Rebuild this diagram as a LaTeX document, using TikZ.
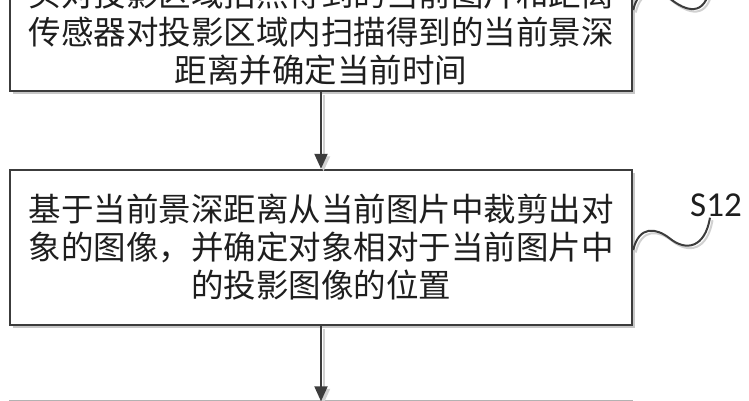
\documentclass[tikz,border=0pt]{standalone}
\usepackage{fontspec}
\setmainfont{Noto Sans CJK SC}
\newfontfamily\labfont{Carlito}
\usetikzlibrary{arrows.meta,shadows}
\definecolor{edge}{HTML}{3C3C3C}
\definecolor{ink}{HTML}{1E1E1E}
\tikzset{
  stepbox/.style={draw=edge, line width=2.4pt, fill=white, rectangle,
    minimum width=622pt, minimum height=155pt, inner sep=0pt,
    align=center, text=ink, font=\fontsize{32.5}{38}\selectfont,
    drop shadow={shadow xshift=3pt, shadow yshift=-3pt, fill=black!22, opacity=1}},
  flow/.style={draw=edge, line width=2pt, -{Triangle[length=15pt,width=13pt]},
    preaction={draw=black!18, line width=2pt, transform canvas={shift={(2.5pt,-2.5pt)}}}},
  squig/.style={draw=edge, line width=2pt,
    preaction={draw=black!18, line width=2pt, transform canvas={shift={(2.5pt,-2.5pt)}}}},
  steplabel/.style={font=\labfont\fontsize{35}{35}\selectfont, text=ink, inner sep=0pt}
}
\begin{document}
\begin{tikzpicture}[x=1pt,y=-1pt]
\useasboundingbox (0,0) rectangle (749,400);
\fill[white] (0,0) rectangle (749,400);
\clip (0,0) rectangle (749,400);
\node[stepbox] (box1) at (321,13.5) {获取摄像\\头对投影区域拍照得到的当前图片和距离\\传感器对投影区域内扫描得到的当前景深\\距离并确定当前时间};
\node[stepbox] (box2) at (321,247.5) {基于当前景深距离从当前图片中裁剪出对\\象的图像，并确定对象相对于当前图片中\\的投影图像的位置};
\node[stepbox, draw=black!30] (box3) at (321,478.5) {};
\node[steplabel] (lab2) at (716,205) {S12};
\coordinate (end1) at (710,-13);
\draw[flow] (box1.south) -- (box2.north);
\draw[flow] (box2.south) -- ([yshift=-1.5pt]box3.north);
\draw[squig] ([yshift=3.5pt]box1.east) .. controls +(6,-25) and +(-13,-10) .. +(36,-12)
  .. controls +(17,14) and +(-5,30) .. (end1);
\draw[squig] ([yshift=-2.5pt]box2.east) .. controls +(6,-25) and +(-13,-10) .. +(36,-12)
  .. controls +(17,14) and +(-5,30) .. ([xshift=-6pt,yshift=-1pt]lab2.south);
\end{tikzpicture}
\end{document}
